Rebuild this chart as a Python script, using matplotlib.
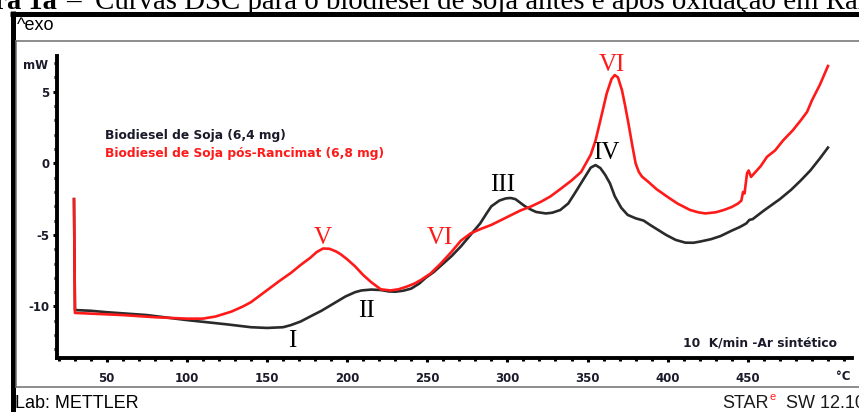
import numpy as np
import matplotlib
matplotlib.use("Agg")
import matplotlib.pyplot as plt
from matplotlib.ticker import MultipleLocator

plt.rcParams["axes.unicode_minus"] = False

# --- data (temperature in degC, heat flow in mW) ---
t_black = [29.6, 30.2, 40, 50, 75, 100, 125, 140, 150, 160, 165, 171, 177, 184,
           190, 199, 205, 209, 215, 221, 226, 230, 235, 240, 245, 249, 254, 258,
           265, 271, 277, 283, 287, 290, 295, 299, 302, 305, 308, 311, 315, 318,
           324, 328, 333, 338, 342, 347, 352, 355, 358, 361, 364, 367, 371, 375,
           380, 385, 389, 394, 399, 405, 411, 416, 420, 427, 433, 440, 445, 449,
           451, 453, 460, 470, 477, 483, 489, 495, 500]
hf_black = [-2.5, -10.25, -10.3, -10.4, -10.6, -10.95, -11.25, -11.45, -11.5,
            -11.45, -11.3, -11.05, -10.7, -10.3, -9.9, -9.3, -9.0, -8.88, -8.82,
            -8.85, -8.95, -8.97, -8.9, -8.75, -8.4, -8.0, -7.6, -7.2, -6.5, -5.8,
            -5.0, -4.2, -3.5, -3.0, -2.6, -2.45, -2.42, -2.5, -2.75, -3.0, -3.25,
            -3.4, -3.5, -3.45, -3.26, -2.8, -2.1, -1.2, -0.3, -0.12, -0.33, -0.8,
            -1.4, -2.3, -3.1, -3.6, -3.84, -4.0, -4.3, -4.65, -5.0, -5.35, -5.54,
            -5.55, -5.47, -5.3, -5.08, -4.7, -4.45, -4.2, -3.95, -3.9, -3.3, -2.5,
            -1.85, -1.2, -0.5, 0.35, 1.1]

t_red = [29.6, 30.2, 40, 60, 80, 100, 110, 118, 128, 135, 140, 146, 152, 158,
         165, 171, 177, 181, 185, 189, 193, 196, 200, 205, 210, 215, 221, 227,
         232, 237, 242, 246, 252, 258, 265, 271, 277, 283, 290, 299, 308, 315,
         321, 327, 333, 340, 346, 352, 355, 358, 362, 365, 367, 369, 371.5,
         373.5, 375.5, 378, 380, 382, 384, 388, 393, 400, 406, 414, 419, 423.5,
         430, 435, 440, 444, 446, 447, 448, 448.5, 449.5, 450.5, 452, 454, 458,
         462, 467, 472, 478, 483, 487, 490, 495, 500]
hf_red = [-2.5, -10.45, -10.5, -10.6, -10.75, -10.85, -10.85, -10.7, -10.35,
          -10.0, -9.7, -9.2, -8.7, -8.2, -7.65, -7.1, -6.6, -6.2, -5.95, -5.97,
          -6.15, -6.35, -6.7, -7.2, -7.8, -8.3, -8.8, -8.88, -8.8, -8.62, -8.4,
          -8.15, -7.7, -7.05, -6.2, -5.4, -4.9, -4.6, -4.3, -3.8, -3.3, -3.0,
          -2.68, -2.3, -1.8, -1.2, -0.6, 0.6, 1.6, 3.0, 4.9, 5.9, 6.17, 6.0, 5.1,
          4.0, 2.8, 1.2, 0.0, -0.6, -0.93, -1.3, -1.8, -2.35, -2.8, -3.26, -3.42,
          -3.5, -3.42, -3.26, -3.05, -2.8, -2.6, -2.0, -2.1, -1.6, -0.7, -0.5,
          -0.95, -0.7, -0.2, 0.46, 0.9, 1.6, 2.3, 3.0, 3.6, 4.4, 5.5, 6.8]

# peak labels: (text, temperature, mW, colour)
peak_text = ["I", "II", "III", "IV", "V", "VI", "VI"]
peak_t = [166, 212, 297, 362, 185, 258, 365]
peak_hf = [-12.4, -10.3, -1.5, 0.7, -5.2, -5.2, 6.9]
peak_col = ["k", "k", "k", "k", "r", "r", "r"]

W, H = 859, 412
BLACK = "#2a2a2a"
RED = "#ff1a1a"
DARK = "#1a1a2a"

fig = plt.figure(figsize=(W / 100, H / 100), dpi=100)
fig.patch.set_facecolor("white")

# background layer in pixel coordinates for the frame / captions
bg = fig.add_axes([0, 0, 1, 1], zorder=0)
bg.set_xlim(0, W)
bg.set_ylim(H, 0)
bg.axis("off")
bg.plot([10, W], [13.5, 13.5], color="black", lw=3.6, solid_capstyle="butt")
bg.plot([12.5, 12.5], [11, H], color="black", lw=3.6, solid_capstyle="butt")
bg.plot([16, W], [41, 41], color="#6e6e6e", lw=1.1)
bg.plot([16, 16], [41, 387], color="#6e6e6e", lw=1.1)
bg.plot([16, W], [387, 387], color="#6e6e6e", lw=1.1)

bg.text(57, 9, "Figura 1a", ha="right", va="baseline", fontsize=20.5,
        family="Liberation Serif", weight="bold")
bg.text(66, 9, "\u2013  Curvas DSC para o biodiesel de soja antes e após oxidação em Rancimat",
        ha="left", va="baseline", fontsize=20.8, family="Liberation Serif")
bg.text(17, 25, "^exo", ha="left", va="center", fontsize=13, family="Liberation Sans")
bg.text(15, 403, "Lab: METTLER", ha="left", va="center", fontsize=13,
        family="Liberation Sans")
bg.text(722, 403, "STAR", ha="left", va="center", fontsize=13,
        family="Liberation Sans", color="#1a1a1a")
bg.text(769, 397, "e", ha="left", va="center", fontsize=8,
        family="Liberation Sans", color=RED)
bg.text(786, 403, "SW 12.10", ha="left", va="center", fontsize=13,
        family="Liberation Sans", color="#1a1a1a")

# main DSC axes
ax = fig.add_axes([57 / W, 1 - 358 / H, (852 - 57) / W, (358 - 56) / H], zorder=1)
ax.set_facecolor("none")
ax.plot(t_black, hf_black, color=BLACK, lw=1.9, solid_joinstyle="round")
ax.plot(t_red, hf_red, color=RED, lw=1.9, solid_joinstyle="round")

ax.set_xlim(19, 515)
ax.set_ylim(-13.6, 7.5)
for s in ["top", "right"]:
    ax.spines[s].set_visible(False)
for s in ["left", "bottom"]:
    ax.spines[s].set_linewidth(2.8)
ax.xaxis.set_major_locator(MultipleLocator(50))
ax.xaxis.set_minor_locator(MultipleLocator(10))
ax.yaxis.set_major_locator(MultipleLocator(5))
ax.yaxis.set_minor_locator(MultipleLocator(1))
ax.tick_params(which="major", length=3.2, width=2.2, color="black")
ax.tick_params(which="minor", length=2.4, width=2.2, color="black")
ax.tick_params(axis="x", which="major", pad=7)
ax.tick_params(axis="y", which="major", pad=2)
ax.set_xticks([50, 100, 150, 200, 250, 300, 350, 400, 450])
ax.set_xticklabels(["50", "100", "150", "200", "250", "300", "350", "400", "450"])
for lab in ax.get_xticklabels() + ax.get_yticklabels():
    lab.set_fontsize(8.5)
    lab.set_fontweight("bold")
    lab.set_color(DARK)

for txt, tx, hy, c in zip(peak_text, peak_t, peak_hf, peak_col):
    ax.text(tx, hy, txt, color=(RED if c == "r" else "black"), fontsize=18,
            family="Liberation Serif", ha="center", va="center")

bg.text(48, 65, "mW", ha="right", va="center", fontsize=8.5, weight="bold", color=DARK)
bg.text(843, 377, "°C", ha="center", va="center", fontsize=8.5, weight="bold", color=DARK)
bg.text(105, 136, "Biodiesel de Soja (6,4 mg)", ha="left", va="center",
        fontsize=8.8, weight="bold", color=DARK)
bg.text(105, 153, "Biodiesel de Soja pós-Rancimat (6,8 mg)", ha="left", va="center",
        fontsize=8.8, weight="bold", color=RED)
bg.text(837, 343, "10  K/min -Ar sintético", ha="right", va="center",
        fontsize=8.8, weight="bold", color=DARK)

fig.savefig("out.png", dpi=100)
